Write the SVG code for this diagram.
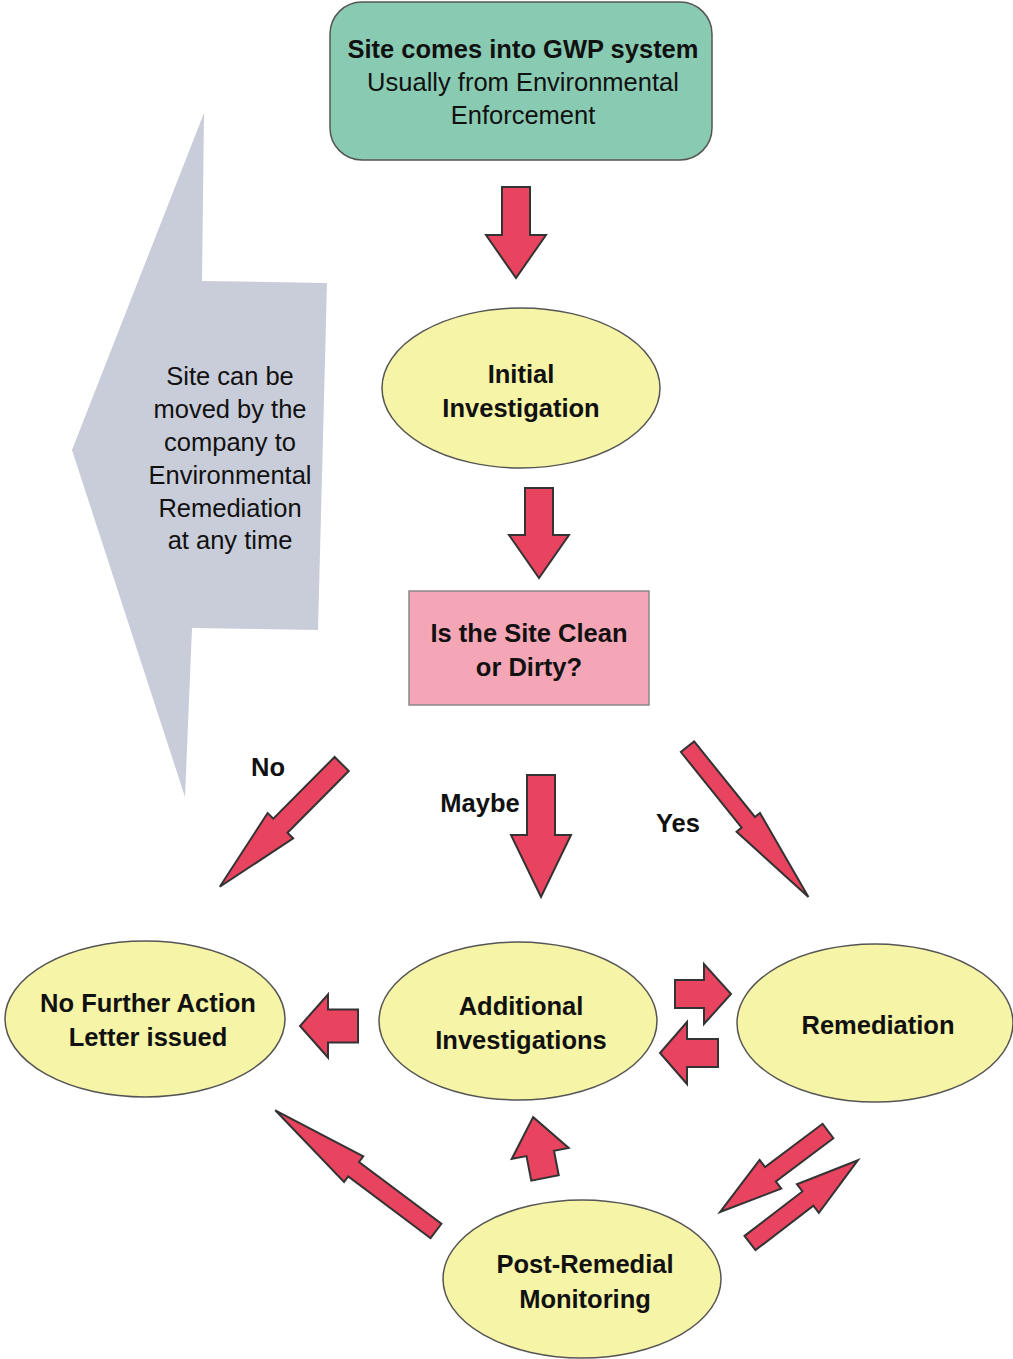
<svg xmlns="http://www.w3.org/2000/svg" width="1013" height="1359" viewBox="0 0 1013 1359">
<style>
text{font-family:"Liberation Sans",Arial,sans-serif;font-size:25.5px;fill:#111;text-anchor:middle}
.b{font-weight:bold}
.ell{fill:#f6f4a6;stroke:#555;stroke-width:1.5}
.arr{fill:#e8435f;stroke:#333;stroke-width:2;stroke-linejoin:miter}
</style>
<rect width="1013" height="1359" fill="#ffffff"/>
<g id="side-note">
<polygon points="204,113 202,281 327,283 318,630 192,628 185,797 72,450" fill="#c9cdd9"/>
<text x="230" y="385">Site can be</text>
<text x="230" y="418">moved by the</text>
<text x="230" y="451">company to</text>
<text x="230" y="484">Environmental</text>
<text x="230" y="517">Remediation</text>
<text x="230" y="549">at any time</text>
</g>
<g id="start">
<rect x="330" y="2" width="382" height="158" rx="32" ry="32" fill="#89cab2" stroke="#555" stroke-width="1.5"/>
<text x="523" y="58" class="b">Site comes into GWP system</text>
<text x="523" y="91">Usually from Environmental</text>
<text x="523" y="124">Enforcement</text>
</g>
<g id="initial">
<ellipse cx="521" cy="388" rx="139" ry="80" class="ell"/>
<text x="521" y="383" class="b">Initial</text>
<text x="521" y="417" class="b">Investigation</text>
</g>
<g id="decision">
<rect x="409" y="591" width="240" height="114" fill="#f4a6b6" stroke="#888" stroke-width="1.5"/>
<text x="529" y="642" class="b">Is the Site Clean</text>
<text x="529" y="676" class="b">or Dirty?</text>
</g>
<g id="nfa">
<ellipse cx="145" cy="1019" rx="140" ry="78" class="ell"/>
<text x="148" y="1012" class="b">No Further Action</text>
<text x="148" y="1046" class="b">Letter issued</text>
</g>
<g id="additional">
<ellipse cx="518" cy="1021" rx="139" ry="79" class="ell"/>
<text x="521" y="1015" class="b">Additional</text>
<text x="521" y="1049" class="b">Investigations</text>
</g>
<g id="remediation">
<ellipse cx="875" cy="1023" rx="138" ry="79" class="ell"/>
<text x="878" y="1034" class="b">Remediation</text>
</g>
<g id="monitoring">
<ellipse cx="582" cy="1279" rx="139" ry="79" class="ell"/>
<text x="585" y="1273" class="b">Post-Remedial</text>
<text x="585" y="1308" class="b">Monitoring</text>
</g>
<g id="connectors">
<polygon class="arr" transform="translate(516,187) rotate(90)" points="0,-14 48,-14 48,-30 91,0 48,30 48,14 0,14"/>
<polygon class="arr" transform="translate(539,488) rotate(90)" points="0,-14 47,-14 47,-30 90,0 47,30 47,14 0,14"/>
<polygon class="arr" transform="translate(341.7,764) rotate(134.8)" points="0,-10 87,-10 87,-18 173,0 87,18 87,10 0,10"/>
<polygon class="arr" transform="translate(541,775) rotate(90)" points="0,-14 60,-14 60,-30 122,0 60,30 60,14 0,14"/>
<polygon class="arr" transform="translate(687.5,746.7) rotate(51.2)" points="0,-8.5 97,-8.5 97,-15 193,0 97,15 97,8.5 0,8.5"/>
<polygon class="arr" transform="translate(358,1026) rotate(180)" points="0,-16.5 30,-16.5 30,-31.5 58,0 30,31.5 30,16.5 0,16.5"/>
<polygon class="arr" transform="translate(675,994)" points="0,-14 29,-14 29,-30 56,0 29,30 29,14 0,14"/>
<polygon class="arr" transform="translate(718,1053) rotate(180)" points="0,-14 31,-14 31,-31 58,0 31,31 31,14 0,14"/>
<polygon class="arr" transform="translate(545,1178) rotate(-101)" points="0,-14 25,-14 25,-29 62,0 25,29 25,14 0,14"/>
<polygon class="arr" transform="translate(436,1231) rotate(-143.1)" points="0,-9 103,-9 103,-16 201,0 103,16 103,9 0,9"/>
<polygon class="arr" transform="translate(828,1131) rotate(143.1)" points="0,-9 72,-9 72,-18 135,0 72,18 72,9 0,9"/>
<polygon class="arr" transform="translate(750,1243) rotate(-37.5)" points="0,-9 73,-9 73,-18 136,0 73,18 73,9 0,9"/>
<text x="268" y="776" class="b">No</text>
<text x="480" y="812" class="b">Maybe</text>
<text x="678" y="832" class="b">Yes</text>
</g>
</svg>
